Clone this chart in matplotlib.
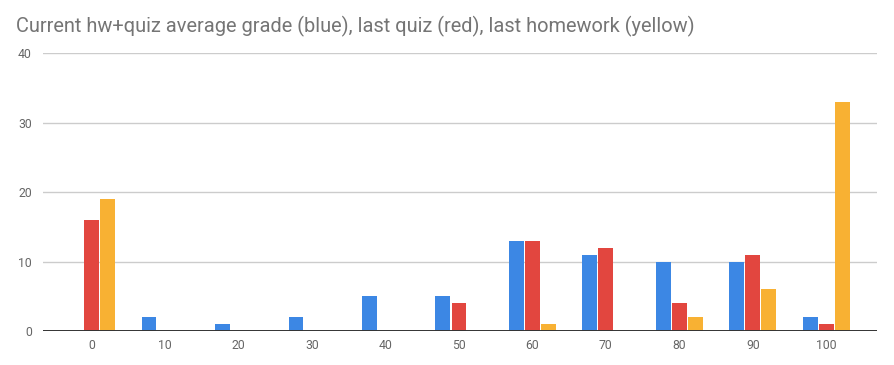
import numpy as np
import matplotlib
matplotlib.use("Agg")
import matplotlib.pyplot as plt

# ── Data ────────────────────────────────────────────────────────────────────
grades     = [0, 10, 20, 30, 40, 50, 60, 70, 80, 90, 100]
avg_grade  = [0, 2, 1, 2, 5, 5, 13, 11, 10, 10, 2]      # blue
last_quiz  = [16, 0, 0, 0, 0, 4, 13, 12, 4, 11, 1]     # red
last_hw    = [19, 0, 0, 0, 0, 0, 1, 0, 2, 6, 33]       # yellow

series = [avg_grade, last_quiz, last_hw]
colors = ["#3C87E4", "#E2463F", "#F8B133"]

TITLE = "Current hw+quiz average grade (blue), last quiz (red), last homework (yellow)"

plt.rcParams["font.family"] = ["Roboto", "DejaVu Sans"]

fig = plt.figure(figsize=(8.94, 3.65), dpi=100)
ax = fig.add_axes([0.048, 0.0932, 0.933, 0.7608])

x = np.arange(len(grades))
step, width = 0.218, 0.2
for i, (vals, col) in enumerate(zip(series, colors)):
    ax.bar(x + (i - 1) * step, vals, width=width, color=col, zorder=3,
           linewidth=0)

ax.set_xlim(-0.66, len(grades) - 1 + 0.69)
ax.set_ylim(0, 40)
ax.set_yticks([0, 10, 20, 30, 40])
ax.set_xticks(x)
ax.set_xticklabels([str(g) for g in grades])

ax.grid(axis="y", color="#cccccc", linewidth=1, zorder=0)
ax.axhline(0, color="#333333", linewidth=1.4, zorder=4)
for s in ax.spines.values():
    s.set_visible(False)
ax.tick_params(length=0, labelsize=8.8, colors="#666666")
ax.tick_params(axis="y", pad=8)
ax.tick_params(axis="x", pad=6)

fig.text(0.018, 0.928, TITLE, fontsize=14.4, color="#757575",
         ha="left", va="center")

fig.savefig("out.png", dpi=100)
